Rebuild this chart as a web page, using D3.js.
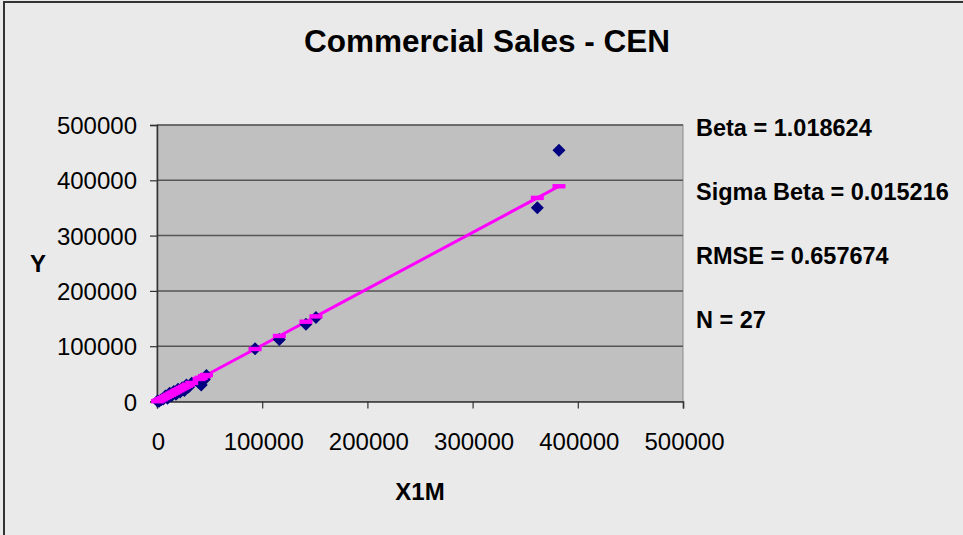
<!DOCTYPE html>
<html>
<head>
<meta charset="utf-8">
<script src="https://cdnjs.cloudflare.com/ajax/libs/d3/7.8.5/d3.min.js"></script>
<style>
  body { margin: 0; background: #eaeaea; }
  svg { display: block; font-family: "Liberation Sans", Arial, sans-serif; }
</style>
</head>
<body>
<div class="container"></div>
<script>
// DATA
const xValues = [500, 2000, 4000, 6000, 8000, 10000, 12000, 14000, 16000, 18000, 20000,
  22000, 24000, 26000, 28000, 30000, 33000, 40000, 42000, 45000, 47000,
  93200, 116300, 141600, 151100, 361500, 382100];
const yValues = [1000, 500, 3000, 4500, 10000, 6000, 15000, 11000, 18000, 13000, 22000,
  17000, 25000, 20000, 30000, 26000, 33000, 34000, 30000, 40000, 47000,
  95400, 112300, 139600, 151800, 350200, 454500];
const beta = 1.018624;
const xTicks = [0, 100000, 200000, 300000, 400000, 500000];
const yTicks = [0, 100000, 200000, 300000, 400000, 500000];
const statLines = ["Beta = 1.018624", "Sigma Beta = 0.015216", "RMSE = 0.657674", "N = 27"];

// SETUP
const W = 963, H = 535;
const plot = { left: 157, right: 683, top: 125, bottom: 401.5 };

const svg = d3.select("div.container")
  .append("svg")
  .attr("width", W)
  .attr("height", H);

// chart area frame (only left and top edges visible in the picture)
svg.append("rect")
  .attr("x", 4).attr("y", 2)
  .attr("width", 1200).attr("height", 1200)
  .attr("fill", "#eaeaea")
  .attr("stroke", "#333")
  .attr("stroke-width", 2);

const x = d3.scaleLinear().domain([0, 500000]).range([plot.left, plot.right]);
const y = d3.scaleLinear().domain([0, 500000]).range([plot.bottom, plot.top]);

// plot area
svg.append("rect")
  .attr("x", plot.left).attr("y", plot.top)
  .attr("width", plot.right - plot.left)
  .attr("height", plot.bottom - plot.top)
  .attr("fill", "#c0c0c0")
  .attr("stroke", "#8a8a8a")
  .attr("stroke-width", 1);

// gridlines
svg.append("g")
  .selectAll("line")
  .data(yTicks.filter(d => d > 0))
  .enter()
  .append("line")
  .attr("x1", plot.left).attr("x2", plot.right)
  .attr("y1", d => y(d)).attr("y2", d => y(d))
  .attr("stroke", "#555")
  .attr("stroke-width", 1.5);

// axes
const xAxis = d3.axisBottom(x).tickValues(xTicks).tickSize(7).tickFormat(d3.format("d"));
const yAxis = d3.axisLeft(y).tickValues(yTicks).tickSize(7).tickFormat(d3.format("d"));

const gx = svg.append("g")
  .attr("transform", `translate(0, ${plot.bottom})`)
  .call(xAxis);
const gy = svg.append("g")
  .attr("transform", `translate(${plot.left}, 0)`)
  .call(yAxis);

[gx, gy].forEach(g => {
  g.selectAll(".domain").attr("stroke", "#333").attr("stroke-width", 1.5);
  g.selectAll(".tick line").attr("stroke", "#333").attr("stroke-width", 1.2);
  g.selectAll(".tick text")
    .attr("fill", "#000")
    .style("font-size", "24px")
    .style("font-family", "'Liberation Sans', Arial, sans-serif");
});
gx.selectAll(".tick text").attr("y", 0).attr("dy", 0).attr("transform", "translate(1, 48.5)");
gy.selectAll(".tick text").attr("x", -20).attr("dy", "0.36em");

// trend line y = beta * x
const fit = xValues.map(v => [v, beta * v]).sort((a, b) => a[0] - b[0]);
const line = d3.line().x(d => x(d[0])).y(d => y(d[1]));

svg.append("path")
  .datum(fit)
  .attr("d", line)
  .attr("fill", "none")
  .attr("stroke", "#ff00ff")
  .attr("stroke-width", 3);

// data points (navy diamonds)
const r = 6.5;
svg.append("g")
  .selectAll("path")
  .data(xValues.map((v, i) => [v, yValues[i]]))
  .enter()
  .append("path")
  .attr("d", d => {
    const cx = x(d[0]), cy = y(d[1]);
    return `M${cx},${cy - r}L${cx + r},${cy}L${cx},${cy + r}L${cx - r},${cy}Z`;
  })
  .attr("fill", "#000080");

// trend markers (magenta dashes)
svg.append("g")
  .selectAll("rect")
  .data(fit)
  .enter()
  .append("rect")
  .attr("x", d => x(d[0]) - 6.5)
  .attr("y", d => y(d[1]) - 2.2)
  .attr("width", 13)
  .attr("height", 4.4)
  .attr("fill", "#ff00ff");

// titles
svg.append("text")
  .attr("x", 487).attr("y", 52)
  .attr("text-anchor", "middle")
  .style("font-size", "31.5px")
  .style("font-weight", "bold")
  .text("Commercial Sales - CEN");

svg.append("text")
  .attr("x", (plot.left + plot.right) / 2).attr("y", 500)
  .attr("text-anchor", "middle")
  .style("font-size", "24px")
  .style("font-weight", "bold")
  .text("X1M");

svg.append("text")
  .attr("x", 38).attr("y", 272)
  .attr("text-anchor", "middle")
  .style("font-size", "24px")
  .style("font-weight", "bold")
  .text("Y");

// statistics text
svg.append("g")
  .selectAll("text")
  .data(statLines)
  .enter()
  .append("text")
  .attr("x", 696)
  .attr("y", (d, i) => 136 + i * 64)
  .style("font-size", "23.5px")
  .style("font-weight", "bold")
  .text(d => d);
</script>
</body>
</html>
